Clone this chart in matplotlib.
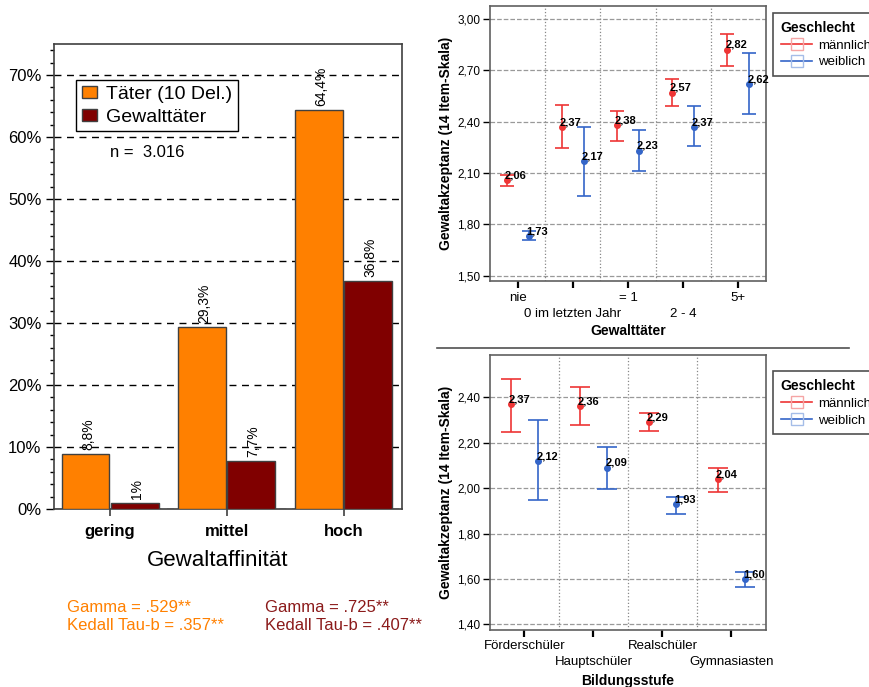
import matplotlib
matplotlib.use("Agg")
import matplotlib.pyplot as plt
import numpy as np
from matplotlib.lines import Line2D
from matplotlib.patches import Patch
from matplotlib.ticker import MultipleLocator, FuncFormatter

plt.rcParams['font.family'] = ['Liberation Sans', 'DejaVu Sans']

# linke Grafik: Gewaltaffinitaet
kategorien = ['gering', 'mittel', 'hoch']
taeter = [8.8, 29.3, 64.4]
gewalttaeter = [1.0, 7.7, 36.8]
taeter_lab = ['8,8%', '29,3%', '64,4%']
gewalt_lab = ['1%', '7,7%', '36,8%']

# rechts oben: Gewalttaeter x Geschlecht
gt_kat = ['nie', '0 im letzten Jahr', '= 1', '2 - 4', '5+']
gt_m = [2.06, 2.37, 2.38, 2.57, 2.82]
gt_m_lo = [2.025, 2.245, 2.29, 2.49, 2.726]
gt_m_hi = [2.089, 2.496, 2.463, 2.652, 2.91]
gt_w = [1.73, 2.17, 2.23, 2.37, 2.62]
gt_w_lo = [1.71, 1.965, 2.111, 2.259, 2.446]
gt_w_hi = [1.763, 2.368, 2.35, 2.49, 2.80]

# rechts unten: Bildungsstufe x Geschlecht
bs_kat = ['Förderschüler', 'Hauptschüler', 'Realschüler', 'Gymnasiasten']
bs_m = [2.37, 2.36, 2.29, 2.04]
bs_m_lo = [2.249, 2.278, 2.253, 1.984]
bs_m_hi = [2.482, 2.447, 2.33, 2.09]
bs_w = [2.12, 2.09, 1.93, 1.60]
bs_w_lo = [1.946, 1.996, 1.888, 1.563]
bs_w_hi = [2.30, 2.183, 1.962, 1.63]

orange = '#ff8000'
dunkelrot = '#800000'
rot = '#ee3535'
blau = '#3465c8'

fig = plt.figure(figsize=(8.7, 6.87), dpi=100)

# ---------- linke Grafik ----------
ax = fig.add_axes([0.0621, 0.2591, 0.4, 0.6769])
x = np.arange(len(kategorien))
w = 0.41
ax.bar(x - 0.21, taeter, w, color=orange, edgecolor='#404040', linewidth=1, zorder=3)
ax.bar(x + 0.21, gewalttaeter, w, color=dunkelrot, edgecolor='#404040', linewidth=1, zorder=3)
for i in range(len(x)):
    ax.annotate(taeter_lab[i], (x[i] - 0.19, taeter[i]), xytext=(0, 3), textcoords='offset points',
                rotation=90, ha='center', va='bottom', fontsize=10, zorder=4)
    ax.annotate(gewalt_lab[i], (x[i] + 0.23, gewalttaeter[i]), xytext=(0, 3), textcoords='offset points',
                rotation=90, ha='center', va='bottom', fontsize=10, zorder=4)

ax.set_xlim(-0.48, 2.5)
ax.set_ylim(0, 75)
ax.yaxis.set_major_locator(MultipleLocator(10))
ax.yaxis.set_minor_locator(MultipleLocator(2))
ax.yaxis.set_major_formatter(FuncFormatter(lambda v, p: '%d%%' % v if v <= 70 else ''))
ax.set_xticks(x)
ax.set_xticklabels(kategorien, fontweight='bold', fontsize=12)
ax.tick_params(axis='x', length=5, width=1.2, pad=6, colors='#404040', labelcolor='black')
ax.tick_params(axis='y', which='major', length=6, width=1, pad=3, labelsize=12)
ax.tick_params(axis='y', which='minor', length=3, width=1)
ax.grid(axis='y', which='major', linestyle=(0, (5, 4)), color='black', linewidth=1)
ax.set_axisbelow(True)
for s in ax.spines.values():
    s.set_color('#404040')
    s.set_linewidth(1.2)
ax.set_xlabel('Gewaltaffinität', fontsize=16)
ax.xaxis.set_label_coords(0.471, -0.088)

leg = ax.legend([Patch(facecolor=orange, edgecolor='#404040'), Patch(facecolor=dunkelrot, edgecolor='#404040')],
                ['Täter (10 Del.)', 'Gewalttäter'], loc='upper left', bbox_to_anchor=(0.063, 0.9226),
                borderaxespad=0, fontsize=14, fancybox=False, edgecolor='black', framealpha=1,
                handlelength=0.8, handleheight=0.55, handletextpad=0.45, labelspacing=0.3,
                borderpad=0.3)
leg.get_frame().set_linewidth(1)
ax.text(0.161, 0.7656, 'n =  3.016', transform=ax.transAxes, fontsize=12, va='center')

fig.text(0.077, 0.1164, 'Gamma = .529**', color=orange, fontsize=12, va='center')
fig.text(0.077, 0.0902, 'Kedall Tau-b = .357**', color=orange, fontsize=12, va='center')
fig.text(0.3046, 0.1164, 'Gamma = .725**', color='#8b1a1a', fontsize=12, va='center')
fig.text(0.3046, 0.0902, 'Kedall Tau-b = .407**', color='#8b1a1a', fontsize=12, va='center')


# ---------- Fehlerbalken-Grafiken rechts ----------
def fehlerbalken(ax, kat, m, m_lo, m_hi, wv, w_lo, w_hi, ylim, ystep, cap, legy, pad):
    pos = np.arange(len(kat))
    for mw, lo, hi, col, off in [(m, m_lo, m_hi, rot, -0.2), (wv, w_lo, w_hi, blau, 0.2)]:
        mw = np.array(mw)
        err = [mw - np.array(lo), np.array(hi) - mw]
        ax.errorbar(pos + off, mw, yerr=err, fmt='o', color=col, markersize=4,
                    capsize=cap, capthick=1.2, elinewidth=1.2, zorder=3)
        for xi, yi in zip(pos + off, mw):
            ax.annotate(('%.2f' % yi).replace('.', ','), (xi, yi), xytext=(-1.5, 3.5),
                        textcoords='offset points', ha='left', va='center',
                        fontsize=8, fontweight='bold', zorder=4)
    ax.set_xlim(-0.5, len(kat) - 0.5)
    ax.set_ylim(*ylim)
    ticks = np.arange(ylim[0] + 0.025, ylim[1], ystep)
    ticks = np.round(ticks / ystep) * ystep
    ax.set_yticks([t for t in ticks if ylim[0] <= t <= ylim[1]])
    ax.yaxis.set_major_formatter(FuncFormatter(lambda v, p: ('%.2f' % v).replace('.', ',')))
    ax.set_xticks(pos)
    ax.set_xticklabels(kat, fontsize=9.5)
    ax.tick_params(axis='x', length=5, width=1.6, pad=pad, color='black')
    for i, t in enumerate(ax.xaxis.get_major_ticks()):
        if i % 2 == 1:
            t.set_pad(pad + 11.5)
    ax.tick_params(axis='y', length=5, width=1, pad=2, labelsize=8.5)
    ax.grid(axis='y', linestyle='--', color='#999999', linewidth=0.9)
    for b in pos[:-1] + 0.5:
        ax.axvline(b, linestyle=':', color='#888888', linewidth=0.9, zorder=1)
    ax.set_axisbelow(True)
    for s in ax.spines.values():
        s.set_color('#606060')
        s.set_linewidth(1.2)
    ax.set_ylabel('Gewaltakzeptanz (14 Item-Skala)', fontsize=10, fontweight='bold', labelpad=3)
    hd = [Line2D([0], [0], color=rot, lw=1.2, marker='s', markersize=9, markerfacecolor='none',
                 markeredgecolor='#f5a5a5'),
          Line2D([0], [0], color=blau, lw=1.2, marker='s', markersize=9, markerfacecolor='none',
                 markeredgecolor='#a5bde8')]
    lg = ax.legend(hd, ['männlich', 'weiblich'], title='Geschlecht', loc='upper left',
                   bbox_to_anchor=(1.025, legy), borderaxespad=0, fontsize=9.5, fancybox=False,
                   edgecolor='#505050', framealpha=1, handlelength=2.4, handletextpad=0.4,
                   labelspacing=0.35, alignment='left', borderpad=0.6,
                   title_fontproperties={'weight': 'bold', 'size': 10})
    lg.get_frame().set_linewidth(1.2)
    return pos


ax2 = fig.add_axes([0.5632, 0.591, 0.3172, 0.4003])
fehlerbalken(ax2, gt_kat, gt_m, gt_m_lo, gt_m_hi, gt_w, gt_w_lo, gt_w_hi,
             (1.47, 3.076), 0.3, 5, 0.975, 3)
ax2.set_xlabel('Gewalttäter', fontsize=10, fontweight='bold')
ax2.xaxis.set_label_coords(0.5, -0.155)

ax3 = fig.add_axes([0.5632, 0.083, 0.3172, 0.4003])
fehlerbalken(ax3, bs_kat, bs_m, bs_m_lo, bs_m_hi, bs_w, bs_w_lo, bs_w_hi,
             (1.375, 2.5865), 0.2, 7, 0.942, 2)
ax3.set_xlabel('Bildungsstufe', fontsize=10, fontweight='bold')
ax3.xaxis.set_label_coords(0.5, -0.16)

fig.add_artist(Line2D([0.502, 0.976], [0.4934, 0.4934], color='#505050', linewidth=1.2))

plt.savefig('out.png', dpi=100)
